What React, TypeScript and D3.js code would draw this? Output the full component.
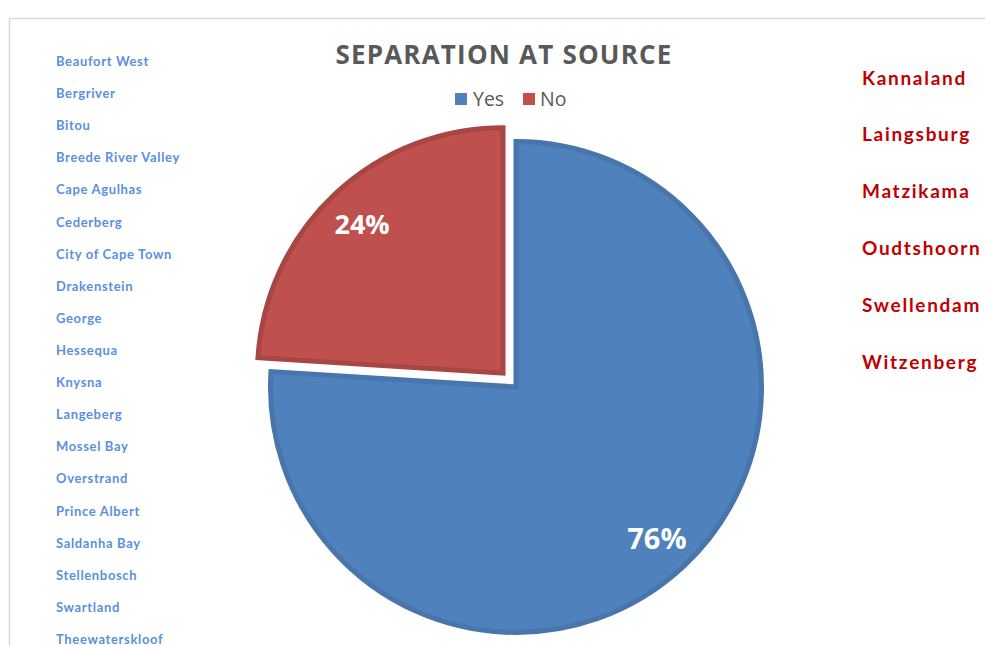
import React from "react";
import * as d3 from "d3";

const categories = ["Yes", "No"];
const values = [76, 24];
const colors = ["#4F81BD", "#C0504D"];
const strokeColors = ["#4775AC", "#A84644"];
const yesMunicipalities = [
  "Beaufort West", "Bergriver", "Bitou", "Breede River Valley", "Cape Agulhas",
  "Cederberg", "City of Cape Town", "Drakenstein", "George", "Hessequa",
  "Knysna", "Langeberg", "Mossel Bay", "Overstrand", "Prince Albert",
  "Saldanha Bay", "Stellenbosch", "Swartland", "Theewaterskloof",
];
const noMunicipalities = ["Kannaland", "Laingsburg", "Matzikama", "Oudtshoorn", "Swellendam", "Witzenberg"];
const title = "SEPARATION AT SOURCE";

export default function App() {
  const W = 985, H = 646;
  const cx = 516, cy = 387, R = 248, sw = 5;
  const pie = d3.pie<number>().sort(null).value((d) => d);
  const arcs = pie(values);
  const arc = d3.arc<d3.PieArcDatum<number>>().innerRadius(0).outerRadius(R - sw / 2);
  const labelArc = d3.arc<d3.PieArcDatum<number>>().innerRadius(R * 0.83).outerRadius(R * 0.83);
  const explode = [0, 19];

  const leftY = d3.scalePoint<string>().domain(yesMunicipalities).range([61, 639]);
  const rightY = d3.scalePoint<string>().domain(noMunicipalities).range([77, 361]);

  const legendItems = [
    { x: 455, tx: 473 },
    { x: 523, tx: 540 },
  ];

  return (
    <svg width={W} height={H} style={{ position: "absolute", left: 0, top: 0, background: "#fff" }}>
      <line x1={9.5} y1={18.5} x2={985} y2={18.5} stroke="#d9d9d9" strokeWidth={1.5} />
      <line x1={9.5} y1={18.5} x2={9.5} y2={646} stroke="#d9d9d9" strokeWidth={1.5} />
      <text x={504} y={64} textAnchor="middle" fontFamily="'Open Sans', sans-serif" fontWeight={700} fontSize={26} letterSpacing={1.2} fill="#595959">
        {title}
      </text>
      {categories.map((c, i) => (
        <g key={c}>
          <rect x={legendItems[i].x} y={93} width={12} height={12} fill={colors[i]} />
          <text x={legendItems[i].tx} y={106} fontFamily="'Open Sans', sans-serif" fontSize={19.5} fill="#595959">
            {c}
          </text>
        </g>
      ))}
      {arcs.map((a, i) => {
        const mid = (a.startAngle + a.endAngle) / 2;
        const dx = Math.sin(mid) * explode[i];
        const dy = -Math.cos(mid) * explode[i];
        const [lx, ly] = labelArc.centroid(a);
        return (
          <g key={i} transform={`translate(${cx + dx},${cy + dy})`}>
            <path d={arc(a) || ""} fill={colors[i]} stroke={strokeColors[i]} strokeWidth={sw} strokeLinejoin="miter" />
            <text x={lx} y={ly} textAnchor="middle" dominantBaseline="central" fontFamily="'Open Sans', sans-serif" fontWeight={700} fontSize={i === 0 ? 29 : 27} fill="#fff">
              {`${values[i]}%`}
            </text>
          </g>
        );
      })}
      {yesMunicipalities.map((m) => (
        <text key={m} x={56} y={leftY(m)} dominantBaseline="central" fontFamily="Lato, sans-serif" fontWeight={700} fontSize={13} letterSpacing={0.65} fill="#5B8FE0">
          {m}
        </text>
      ))}
      {noMunicipalities.map((m) => (
        <text key={m} x={862} y={rightY(m)} dominantBaseline="central" fontFamily="Lato, sans-serif" fontWeight={700} fontSize={19} letterSpacing={1.7} fill="#C00000">
          {m}
        </text>
      ))}
    </svg>
  );
}
